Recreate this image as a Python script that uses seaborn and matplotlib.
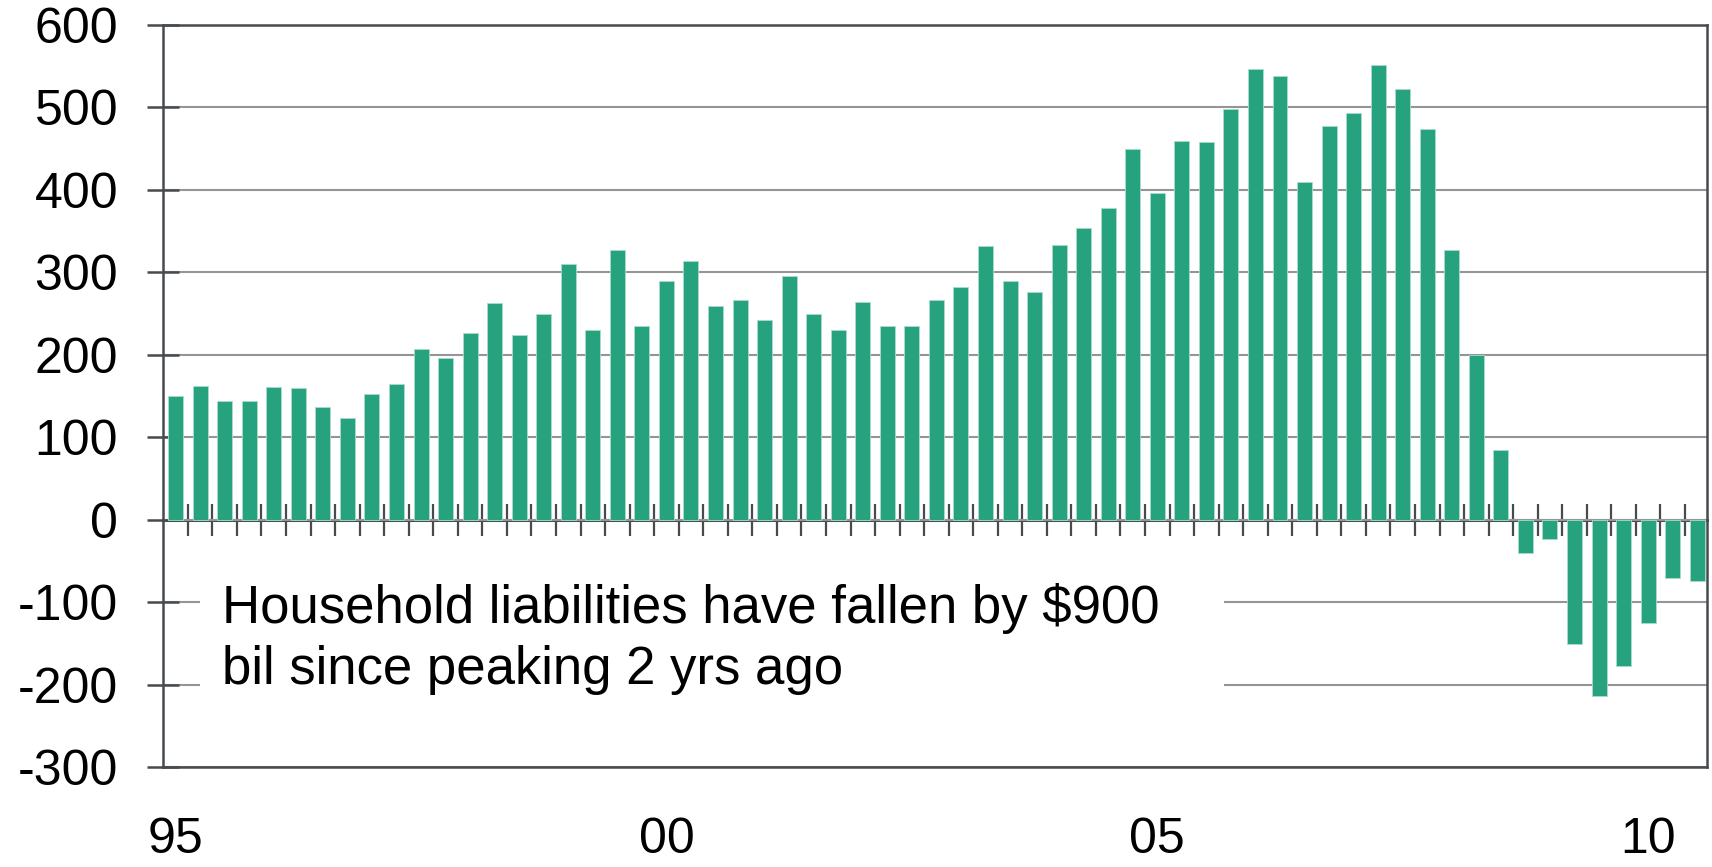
import numpy as np
import pandas as pd
import seaborn as sns
import matplotlib.pyplot as plt
from matplotlib.patches import Rectangle

# Quarterly change in household liabilities, $ bil (1995Q1 - 2010Q3)
years = list(range(1995, 2011))
values_1995_1999 = [150, 162, 144, 144, 161, 160, 137, 123, 152, 165, 207, 196,
                    226, 263, 224, 249, 310, 230, 327, 235]
values_2000_2004 = [290, 314, 259, 266, 242, 295, 249, 230, 264, 235, 235, 266,
                    282, 332, 290, 276, 333, 354, 378, 449]
values_2005_2010 = [396, 459, 458, 498, 547, 538, 410, 478, 493, 552, 522, 474,
                    327, 200, 84, -40, -24, -151, -214, -178, -125, -71, -74]
y_ticks = [600, 500, 400, 300, 200, 100, 0, -100, -200, -300]
note = "Household liabilities have fallen by $900\nbil since peaking 2 yrs ago"

values = values_1995_1999 + values_2000_2004 + values_2005_2010
quarters = [f"{y}Q{q}" for y in years for q in range(1, 5)][:len(values)]
df = pd.DataFrame({"Quarter": quarters, "Change": values})

bar_color = "#27a27f"
dark = "#474a4f"
grid_gray = "#959595"

sns.set_style("white")
plt.rcParams['font.family'] = ['Liberation Sans', 'DejaVu Sans']

fig = plt.figure(figsize=(17.12, 8.67), dpi=100)
ax = fig.add_axes([0.0954, 0.1153, 0.9017, 0.8559])

sns.barplot(data=df, x="Quarter", y="Change", color=bar_color, width=0.61,
            saturation=1, edgecolor="#a8dcc9", linewidth=0.6, ax=ax)

ax.set_ylim(-300, 600)
ax.set_xlim(-0.5, len(values) - 0.6)
ax.set_yticks(y_ticks)
ax.set_yticklabels([str(v) for v in y_ticks])
ax.set_axisbelow(True)
ax.yaxis.grid(True, color=grid_gray, linewidth=1.5)
ax.xaxis.grid(False)

# year labels under the Q1 bar of every fifth year
label_pos = [i for i, q in enumerate(quarters) if q.endswith("Q1") and int(q[:4]) % 5 == 0]
ax.set_xticks(label_pos)
ax.set_xticklabels([quarters[i][2:4] for i in label_pos])

ax.tick_params(axis='y', direction='inout', length=23, width=1.8, color=dark,
               labelsize=36, labelcolor='black', pad=21, left=True)
ax.tick_params(axis='x', length=0, labelsize=36, labelcolor='black', pad=36)
ax.set_xlabel("")
ax.set_ylabel("")

for s in ax.spines.values():
    s.set_visible(True)
    s.set_color(dark)
    s.set_linewidth(1.8)

# zero line with quarter separators
zero = ax.secondary_xaxis(0, transform=ax.transData)
zero.set_xticks(np.arange(len(values) - 1) + 0.5)
zero.tick_params(axis='x', direction='inout', length=23, width=1.6, color=dark,
                 labelbottom=False, labeltop=False)
for s in zero.spines.values():
    s.set_color(dark)
    s.set_linewidth(2.2)

# white panel behind the note
ax.add_patch(Rectangle((0.0238, 0.06), 0.663, 0.20, transform=ax.transAxes,
                       facecolor="white", edgecolor="none", zorder=0.8))
ax.text(0.038, 0.248, note, transform=ax.transAxes, ha='left', va='top',
        fontsize=38, color="black", linespacing=1.28, zorder=3)

fig.savefig("out.png", dpi=100)
